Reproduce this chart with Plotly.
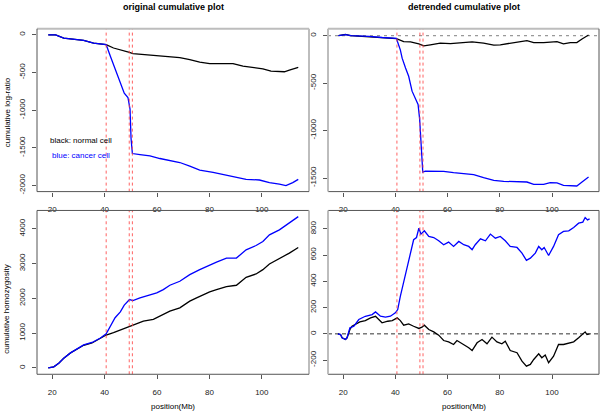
import plotly.graph_objects as go

# ---------------- data ----------------
# Top-left: original cumulative log-ratio
tl_black_x = [18.5, 21.3, 24.4, 32.0, 35.8, 40.6, 43.4, 46.0, 49.5, 50.8, 54.8, 59.9, 63.7, 68.7, 72.5,
              76.3, 80.1, 83.9, 89.0, 92.8, 96.6, 100.4, 103.5, 108.6, 110.5, 113.9]
tl_black_y = [0, 0, -44, -74, -109, -131, -175, -197, -232, -249, -263, -276, -284, -302, -328,
              -363, -381, -385, -381, -416, -429, -451, -481, -490, -468, -433]
tl_blue_x = [18.5, 21.3, 24.4, 32.0, 35.8, 40.6, 42.2, 44.0, 45.3, 46.6, 47.5, 48.9, 49.7, 50.1, 50.6,
             53.5, 57.3, 61.1, 64.9, 68.7, 72.5, 76.3, 81.4, 86.5, 90.3, 94.0, 99.1, 102.9, 106.7,
             109.2, 111.8, 113.9]
tl_blue_y = [0, 0, -44, -74, -109, -131, -284, -460, -569, -700, -775, -831, -985, -1378, -1575,
             -1589, -1606, -1641, -1672, -1694, -1742, -1794, -1825, -1860, -1891, -1917, -1926, -1961, -1982,
             -2000, -1961, -1917]

# Top-right: detrended cumulative log-ratio
tr_black_x = [18.2, 20.9, 22.8, 29.2, 34.3, 40.4, 43.2, 45.8, 49.0, 50.9, 53.4, 57.2, 61.1, 64.9, 69.4,
              73.8, 77.7, 80.2, 85.3, 90.4, 93.0, 96.8, 101.9, 104.4, 107.0, 109.5, 111.5, 114.0]
tr_black_y = [0, 14, 0, -10, -21, -31, -63, -66, -87, -108, -97, -80, -84, -73, -66,
              -80, -101, -97, -73, -52, -73, -73, -63, -87, -73, -73, -35, 7]
tr_blue_x = [18.2, 20.9, 23.0, 30.0, 35.0, 40.4, 41.9, 42.6, 43.9, 45.1, 46.4, 47.7, 48.7, 49.3, 49.8,
             50.5, 51.5, 54.7, 58.5, 62.3, 66.2, 70.0, 73.8, 77.7, 81.5, 86.6, 90.4, 93.0, 96.8, 99.3,
             101.9, 104.4, 109.5, 111.5, 114.0]
tr_blue_y = [0, 10, 0, -7, -20, -30, -150, -237, -341, -428, -585, -654, -724, -880, -1159,
             -1437, -1427, -1427, -1430, -1444, -1455, -1465, -1497, -1524, -1535, -1538, -1542, -1566, -1566, -1549,
             -1552, -1577, -1584, -1542, -1490]

# Bottom-left: cumulative homozygosity
bl_black_x = [18.5, 20.6, 22.5, 24.4, 27.0, 29.5, 32.0, 35.2, 38.4, 40.6, 43.4, 46.0, 49.5, 51.0, 54.8,
              58.6, 62.4, 64.9, 68.7, 72.5, 75.1, 77.6, 80.1, 82.7, 86.5, 90.3, 94.0, 97.8, 100.4, 102.9,
              106.7, 110.5, 113.9]
bl_black_y = [0, 29, 134, 277, 430, 535, 649, 716, 840, 945, 1012, 1088, 1174, 1241, 1346,
              1394, 1537, 1632, 1728, 1919, 2014, 2110, 2186, 2253, 2339, 2377, 2606, 2702, 2826, 2988,
              3141, 3303, 3465]
bl_blue_x = [18.5, 20.6, 22.5, 24.4, 27.0, 29.5, 32.0, 35.2, 38.4, 40.6, 42.2, 44.0, 46.0, 47.5, 49.5,
             50.8, 53.5, 57.3, 59.9, 62.4, 64.9, 68.7, 72.5, 76.3, 80.1, 82.7, 86.5, 90.3, 94.0, 97.8,
             100.4, 102.9, 106.7, 110.5, 113.9]
bl_blue_y = [0, 29, 134, 277, 430, 540, 660, 730, 860, 983, 1203, 1442, 1613, 1804, 1967,
             1938, 2014, 2110, 2157, 2253, 2377, 2492, 2683, 2826, 2969, 3045, 3159, 3159, 3398, 3522,
             3637, 3828, 3971, 4162, 4353]

# Bottom-right: detrended cumulative homozygosity
br_black_x = [18.0, 19.0, 19.6, 20.9, 21.5, 22.6, 23.4, 24.7, 26.4, 28.5, 30.5, 32.4, 33.6, 34.9, 37.1,
              38.8, 40.7, 41.9, 43.2, 45.1, 47.0, 49.0, 50.2, 51.1, 52.8, 54.7, 56.6, 58.5, 60.4, 62.3,
              63.6, 66.2, 68.1, 69.4, 71.3, 73.2, 75.1, 77.0, 78.9, 80.8, 82.1, 84.0, 86.6, 88.5, 90.2,
              91.7, 93.0, 94.9, 96.1, 97.4, 98.7, 100.6, 102.5, 104.4, 106.4, 108.3, 110.2, 111.8, 112.7,
              113.4, 114.4]
br_black_y = [0, -5, -30, -43, -30, 33, 58, 71, 91, 101, 122, 134, 109, 84, 96,
              101, 122, 101, 66, 76, 58, 41, 51, 66, 33, 15, -10, -51, -61, -81,
              -51, -81, -106, -127, -68, -43, -76, -25, -61, -76, -56, -127, -144, -208, -246,
              -233, -195, -152, -182, -162, -220, -170, -81, -81, -68, -61, -30, 0, 15,
              -5, 0]
br_blue_x = [18.0, 19.0, 19.6, 20.9, 21.5, 22.6, 24.1, 26.0, 28.5, 31.1, 32.4, 34.3, 36.2, 38.1, 40.0,
             40.9, 41.9, 43.2, 44.5, 45.8, 47.0, 48.1, 49.0, 49.8, 51.1, 52.8, 54.7, 56.6, 58.5, 60.4,
             62.3, 64.3, 66.2, 68.1, 69.4, 70.6, 72.6, 74.5, 76.4, 78.3, 80.2, 82.1, 84.0, 86.6, 88.5,
             90.2, 91.7, 93.6, 94.9, 96.1, 97.0, 98.7, 100.6, 102.5, 104.4, 106.4, 108.3, 110.2, 111.8,
             112.7, 113.6, 114.4]
br_blue_y = [0, -5, -30, -43, -30, 46, 58, 109, 134, 147, 167, 134, 127, 134, 160,
             185, 286, 400, 489, 603, 717, 734, 805, 760, 785, 742, 734, 709, 679, 699,
             666, 704, 679, 666, 641, 679, 724, 709, 760, 729, 742, 709, 666, 658, 615,
             560, 577, 615, 666, 641, 658, 597, 666, 755, 780, 785, 810, 843, 851,
             886, 868, 876]

breakpoints = [40.6, 49.4, 50.6]
x_ticks = [20, 40, 60, 80, 100]
tl_ticks = [0, -500, -1000, -1500, -2000]
tr_ticks = [0, -500, -1000, -1500]
bl_ticks = [0, 1000, 2000, 3000, 4000]
br_ticks = [-200, 0, 200, 400, 600, 800]

# ---------------- figure ----------------
W, H = 600, 415
FONT = "Liberation Sans, Arial, sans-serif"
BLACK = "#000000"
BLUE = "#0000FF"

def px_x(p):
    return p / W

def px_y(p):
    return 1 - p / H

left_dom = [px_x(37), px_x(309)]
right_dom = [px_x(328), px_x(599)]
top_dom = [px_y(193), px_y(29)]
bot_dom = [px_y(377), px_y(212)]

fig = go.Figure()

def add_series(x, y, xa, ya, color):
    fig.add_trace(go.Scatter(x=x, y=y, mode="lines", xaxis=xa, yaxis=ya,
                             line=dict(color=color, width=1.3), showlegend=False,
                             hoverinfo="skip"))

add_series(tl_black_x, tl_black_y, "x", "y", BLACK)
add_series(tl_blue_x, tl_blue_y, "x", "y", BLUE)
add_series(tr_black_x, tr_black_y, "x2", "y2", BLACK)
add_series(tr_blue_x, tr_blue_y, "x2", "y2", BLUE)
add_series(bl_black_x, bl_black_y, "x3", "y3", BLACK)
add_series(bl_blue_x, bl_blue_y, "x3", "y3", BLUE)
add_series(br_black_x, br_black_y, "x4", "y4", BLACK)
add_series(br_blue_x, br_blue_y, "x4", "y4", BLUE)

tickfont = dict(family=FONT, size=8, color="#222222")

def xaxis_cfg(dom, anchor):
    return dict(domain=dom, anchor=anchor, range=[14.2, 118.0], tickvals=x_ticks,
                ticktext=[str(v) for v in x_ticks],
                ticks="outside", ticklen=4, tickcolor="#555555", tickwidth=1,
                ticklabelstandoff=6,
                showgrid=False, zeroline=False, showline=False, tickfont=tickfont)

def yaxis_cfg(dom, anchor, rng, vals):
    return dict(domain=dom, anchor=anchor, range=rng, tickvals=vals,
                ticktext=[str(v) for v in vals], tickangle=-90,
                ticks="outside", ticklen=4, tickcolor="#555555", tickwidth=1,
                ticklabelstandoff=4,
                showgrid=False, zeroline=False, showline=False, tickfont=tickfont)

fig.update_layout(
    width=W, height=H, margin=dict(l=0, r=0, t=0, b=0),
    paper_bgcolor="white", plot_bgcolor="white",
    xaxis=xaxis_cfg(left_dom, "y"),
    yaxis=yaxis_cfg(top_dom, "x", [-2080, 80], tl_ticks),
    xaxis2=xaxis_cfg(right_dom, "y2"),
    yaxis2=yaxis_cfg(top_dom, "x2", [-1643, 72], tr_ticks),
    xaxis3=xaxis_cfg(left_dom, "y3"),
    yaxis3=yaxis_cfg(bot_dom, "x3", [-185, 4530], bl_ticks),
    xaxis4=xaxis_cfg(right_dom, "y4"),
    yaxis4=yaxis_cfg(bot_dom, "x4", [-308, 940], br_ticks),
    font=dict(family=FONT, color="#000000"),
)

shapes = []
# red dashed breakpoint lines
for xa, ya in [("x", "y"), ("x2", "y2"), ("x3", "y3"), ("x4", "y4")]:
    for b in breakpoints:
        shapes.append(dict(type="line", xref=xa, yref=ya + " domain", x0=b, x1=b, y0=0, y1=1,
                           line=dict(color="rgba(255,70,70,0.85)", width=1, dash="3px,3px"), layer="above"))
# zero reference lines in detrended panels
shapes.append(dict(type="line", xref="x2 domain", yref="y2", x0=0, x1=1, y0=0, y1=0,
                   line=dict(color="#999999", width=1.3, dash="3px,4px"), layer="below"))
shapes.append(dict(type="line", xref="x4 domain", yref="y4", x0=0, x1=1, y0=0, y1=0,
                   line=dict(color="#333333", width=1, dash="4px,3px"), layer="below"))

# panel borders (pixel positions)
DARK = "#555555"
LIGHT = "#BDBDBD"

def border(x0, x1, y0, y1, top_c, right_c, bottom_c, left_c):
    def seg(a, b, c, d, col):
        w = 2 if col == LIGHT else 1
        shapes.append(dict(type="line", xref="paper", yref="paper",
                           x0=px_x(a), x1=px_x(b), y0=px_y(c), y1=px_y(d),
                           line=dict(color=col, width=w), layer="above"))
    seg(x0, x1, y0, y0, top_c)
    seg(x1, x1, y0, y1, right_c)
    seg(x0, x1, y1, y1, bottom_c)
    seg(x0, x0, y0, y1, left_c)

border(37, 309, 29, 193, LIGHT, LIGHT, DARK, DARK)
border(328, 599, 29, 193, LIGHT, DARK, DARK, LIGHT)
border(37, 309, 212, 377, DARK, LIGHT, DARK, DARK)
border(328, 599, 212, 377, DARK, DARK, DARK, LIGHT)
fig.update_layout(shapes=shapes)

ann = []
def text(x, y, s, size=8, color="#000000", bold=False, angle=0, xanchor="center"):
    ann.append(dict(x=px_x(x), y=px_y(y), xref="paper", yref="paper", text=("<b>%s</b>" % s) if bold else s,
                    showarrow=False, textangle=angle, xanchor=xanchor, yanchor="middle",
                    font=dict(family=FONT, size=size, color=color)))

text(173, 7, "original cumulative plot", size=9, bold=True)
text(463.5, 7, "detrended cumulative plot", size=9, bold=True)
text(7, 113, "cumulative log-ratio", size=8, angle=-90)
text(7, 312, "cumulative homozygosity", size=8, angle=-90)
text(173, 409, "position(Mb)", size=8)
text(463.5, 409, "position(Mb)", size=8)
text(48, 142, "black: normal cell", size=8, color="#000000", xanchor="left")
text(50, 157, "blue: cancer cell", size=8, color=BLUE, xanchor="left")
fig.update_layout(annotations=ann)

fig.write_html("out.html", config={"displayModeBar": False},
               post_script="document.body.style.margin='0';document.body.style.overflow='hidden';")
